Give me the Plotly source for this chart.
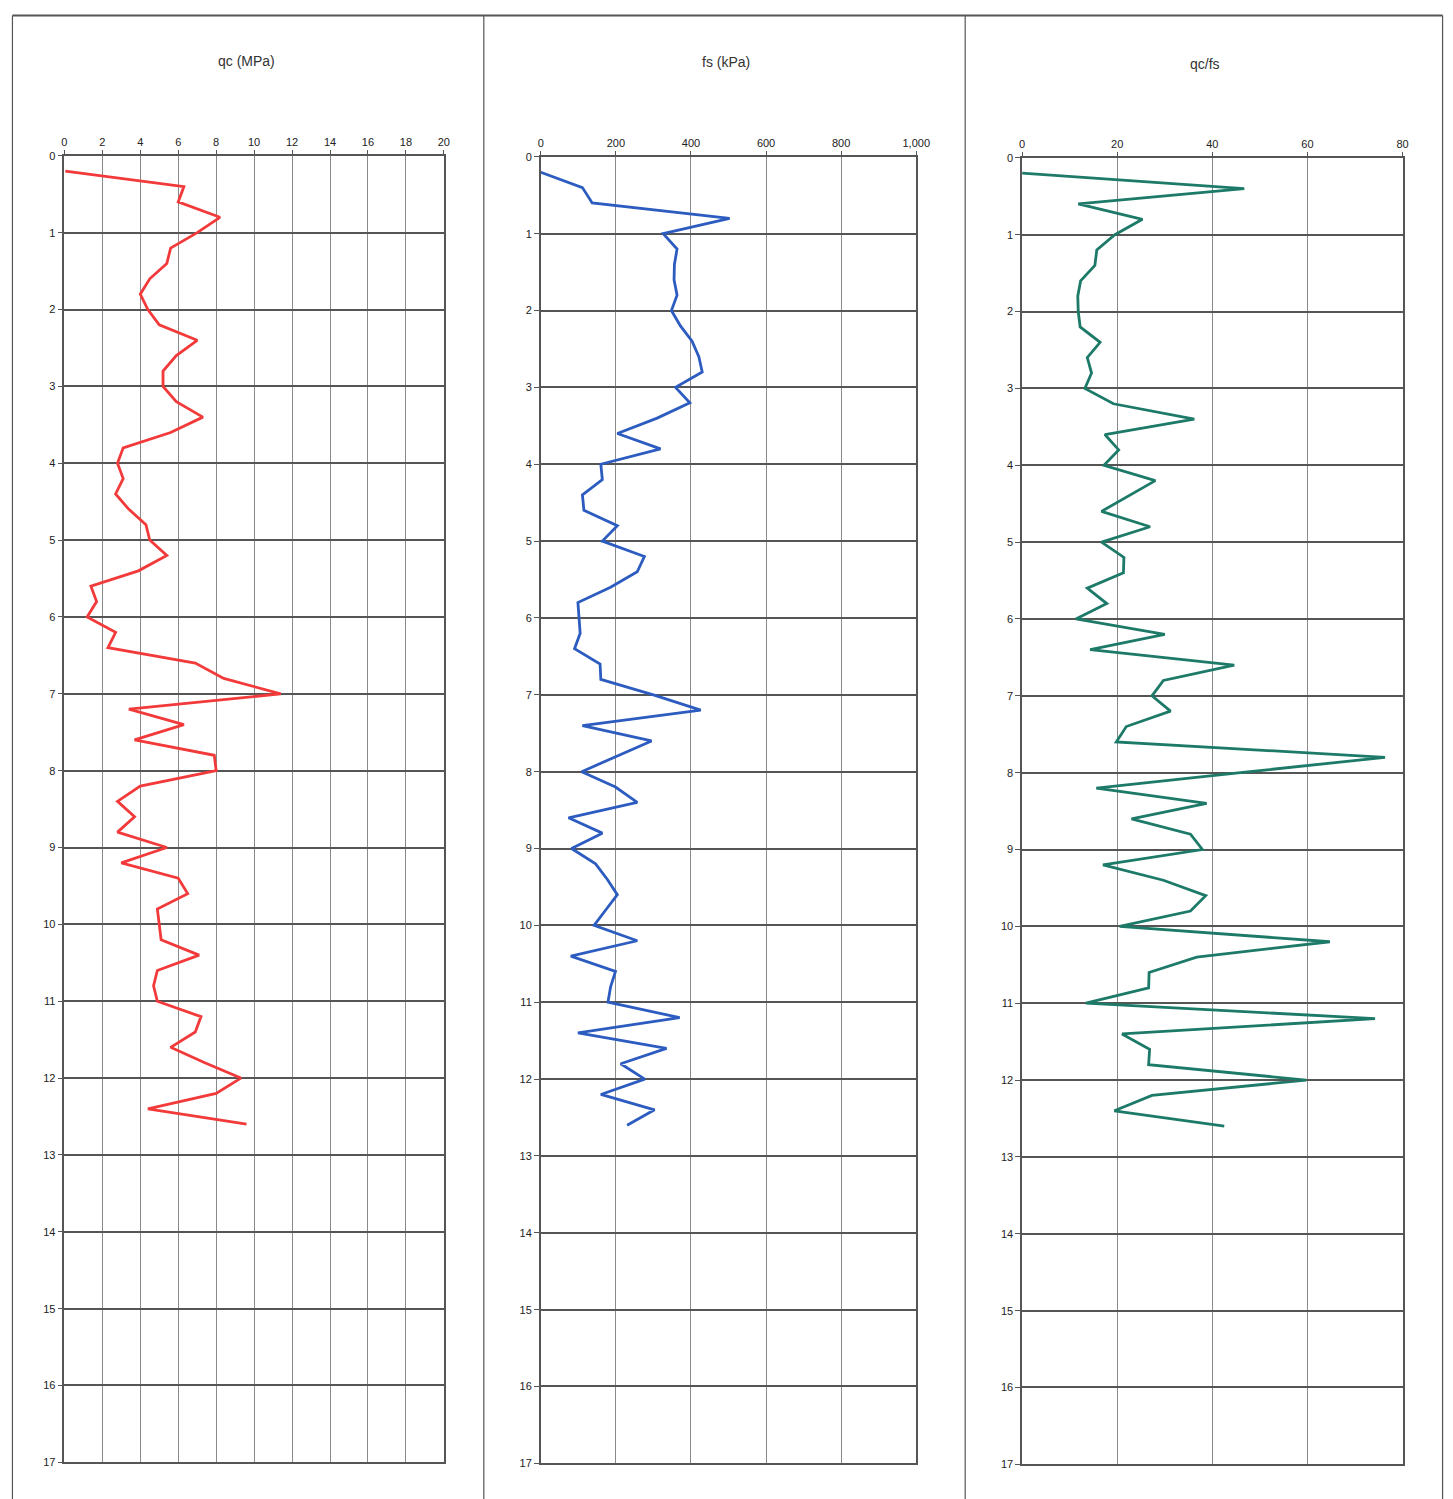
import plotly.graph_objects as go

# ---------------- data ----------------
depth_m = [0.2, 0.4, 0.6, 0.8, 1.0, 1.2, 1.4, 1.6, 1.8, 2.0,
           2.2, 2.4, 2.6, 2.8, 3.0, 3.2, 3.4, 3.6, 3.8, 4.0,
           4.2, 4.4, 4.6, 4.8, 5.0, 5.2, 5.4, 5.6, 5.8, 6.0,
           6.2, 6.4, 6.6, 6.8, 7.0, 7.2, 7.4, 7.6, 7.8, 8.0,
           8.2, 8.4, 8.6, 8.8, 9.0, 9.2, 9.4, 9.6, 9.8, 10.0,
           10.2, 10.4, 10.6, 10.8, 11.0, 11.2, 11.4, 11.6, 11.8, 12.0,
           12.2, 12.4, 12.6]

qc_mpa = [0.05, 6.3, 6.0, 8.2, 7.0, 5.6, 5.4, 4.5, 4.0, 4.4,
          5.0, 7.0, 5.9, 5.2, 5.2, 5.9, 7.3, 5.6, 3.1, 2.8,
          3.1, 2.7, 3.4, 4.3, 4.5, 5.4, 3.9, 1.4, 1.7, 1.2,
          2.7, 2.3, 6.9, 8.4, 11.4, 3.4, 6.3, 3.7, 7.9, 8.0,
          4.0, 2.8, 3.7, 2.8, 5.4, 3.0, 6.0, 6.5, 4.9, 5.0,
          5.1, 7.1, 4.9, 4.7, 4.9, 7.2, 6.9, 5.6, 7.4, 9.3,
          8.0, 4.4, 9.6]

fs_kpa = [0, 111, 137, 503, 326, 363, 356, 355, 363, 348,
          372, 403, 421, 430, 359, 397, 310, 204, 319, 160,
          164, 111, 115, 204, 164, 276, 257, 186, 99, 102,
          105, 90, 158, 160, 300, 426, 111, 295, 200, 109,
          199, 257, 74, 164, 82, 146, 177, 204, 173, 142,
          257, 80, 199, 186, 179, 370, 99, 335, 213, 277,
          160, 303, 230]

qc_fs_ratio = [0, 46.7, 11.8, 25.3, 19.5, 15.7, 15.3, 12.3, 11.7, 11.8,
               12.2, 16.4, 13.7, 14.6, 13.2, 19.2, 36.2, 17.4, 20.3, 17.2,
               28.0, 22.4, 16.7, 26.9, 16.7, 21.4, 21.3, 13.7, 17.8, 11.3,
               30.0, 14.3, 44.6, 29.7, 27.3, 31.2, 21.9, 19.8, 76.3, 45.9,
               15.6, 38.8, 23.0, 35.4, 37.9, 17.0, 29.7, 38.6, 35.4, 20.5,
               64.7, 36.7, 26.7, 26.6, 13.4, 74.2, 21.0, 26.8, 26.6, 59.7,
               27.3, 19.4, 42.5]

panel_titles = ["qc (MPa)", "fs (kPa)", "qc/fs"]
x_ranges = [[0, 20], [0, 1000], [0, 80]]
x_dticks = [2, 200, 20]
depth_range = [17, 0]

# ---------------- layout helpers ----------------
W, H = 1455, 1500
OFF = 8  # page body margin
# empirical screenshot mapping: shown = A + S * (OFF + paper_px)
AX, SX = 1.65, 0.9896
AY, SY = 6.3, 0.9916


def fx(p):
    return ((p - AX) / SX - OFF) / W


def fy(p):
    return 1 - ((p - AY) / SY - OFF) / H


def clip01(v):
    return min(max(v, 0.001), 0.999)


plot_boxes = [  # left, right, top, bottom in target pixels
    (63, 443, 156, 1462),
    (540, 916, 157, 1463),
    (1022, 1403, 158, 1464),
]
title_pos = [(245, 61), (725, 62), (1205, 64)]
line_colors = ["#f23a3a", "#2d5cc0", "#1d7a68"]
series = [qc_mpa, fs_kpa, qc_fs_ratio]

fig = go.Figure()
layout = dict(
    width=W, height=H,
    margin=dict(l=0, r=0, t=0, b=0),
    paper_bgcolor="white", plot_bgcolor="white",
    showlegend=False,
    font=dict(family="Liberation Sans, Arial, sans-serif", color="#333333"),
)

for i in range(3):
    n = "" if i == 0 else str(i + 1)
    fig.add_trace(go.Scatter(
        x=series[i], y=depth_m, mode="lines",
        line=dict(color=line_colors[i], width=2.8),
        xaxis="x" + n, yaxis="y" + n,
    ))
    l, r, t, b = plot_boxes[i]
    layout["xaxis" + n] = dict(
        domain=[fx(l), fx(r)], anchor="y" + n, side="top",
        range=x_ranges[i], dtick=x_dticks[i], tick0=0,
        tickformat=",", showgrid=True, gridcolor="#8a8a8a", gridwidth=1,
        showline=True, linecolor="#555555", linewidth=1.5, mirror=True,
        ticks="outside", ticklen=4, tickcolor="#555555",
        tickfont=dict(size=11, color="#222222"), zeroline=False,
    )
    layout["yaxis" + n] = dict(
        domain=[fy(b), fy(t)], anchor="x" + n,
        range=depth_range, dtick=1, tick0=0,
        showgrid=True, gridcolor="#555555", gridwidth=1.5,
        showline=True, linecolor="#555555", linewidth=1.5, mirror=True,
        ticks="outside", ticklen=5, tickcolor="#555555",
        tickfont=dict(size=11, color="#222222"), zeroline=False,
    )

annotations = []
for i in range(3):
    x, y = title_pos[i]
    annotations.append(dict(
        text=panel_titles[i], x=fx(x), y=fy(y), xref="paper", yref="paper",
        showarrow=False, xanchor="center", yanchor="middle",
        font=dict(size=14, color="#333333"),
    ))
layout["annotations"] = annotations

# panel frames (kept inside the drawable paper)
top_y = clip01(fy(5))
shapes = []
for xv in [5, 483, 965, 1443]:
    xp = clip01(fx(xv))
    shapes.append(dict(type="line", xref="paper", yref="paper",
                       x0=xp, x1=xp, y0=top_y, y1=0,
                       line=dict(color="#555555", width=1.2)))
shapes.append(dict(type="line", xref="paper", yref="paper",
                   x0=clip01(fx(5)), x1=clip01(fx(1443)), y0=top_y, y1=top_y,
                   line=dict(color="#555555", width=2)))
layout["shapes"] = shapes

fig.update_layout(**layout)
fig.write_html("out.html")
